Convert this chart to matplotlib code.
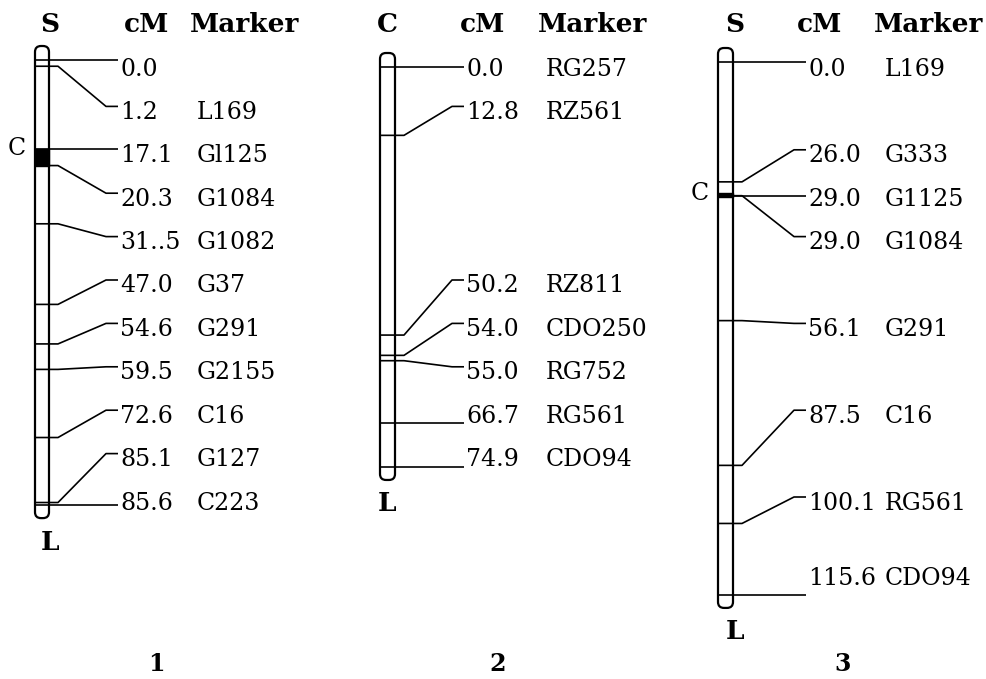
import numpy as np
import matplotlib.pyplot as plt
from matplotlib.patches import FancyBboxPatch, Rectangle

# chromosome 1
chr1_cm = [0.0, 1.2, 17.1, 20.3, 31.5, 47.0, 54.6, 59.5, 72.6, 85.1, 85.6]
chr1_cm_text = ["0.0", "1.2", "17.1", "20.3", "31..5", "47.0", "54.6", "59.5", "72.6", "85.1", "85.6"]
chr1_markers = ["", "L169", "Gl125", "G1084", "G1082", "G37", "G291", "G2155", "C16", "G127", "C223"]
chr1_centromere = (17.1, 20.3)

# chromosome 2
chr2_cm = [0.0, 12.8, 50.2, 54.0, 55.0, 66.7, 74.9]
chr2_cm_text = ["0.0", "12.8", "50.2", "54.0", "55.0", "66.7", "74.9"]
chr2_markers = ["RG257", "RZ561", "RZ811", "CDO250", "RG752", "RG561", "CDO94"]
chr2_centromere = None

# chromosome 3
chr3_cm = [0.0, 26.0, 29.0, 29.0, 56.1, 87.5, 100.1, 115.6]
chr3_cm_text = ["0.0", "26.0", "29.0", "29.0", "56.1", "87.5", "100.1", "115.6"]
chr3_markers = ["L169", "G333", "G1125", "G1084", "G291", "C16", "RG561", "CDO94"]
chr3_centromere = (28.5, 29.3)

ends = [("S", "L"), ("C", "L"), ("S", "L")]
panel_names = ["1", "2", "3"]

FS = 17
HFS = 19
FONT = "DejaVu Serif"
ROW0 = 69.0
ROW_STEP = 43.4

# layout for each chromosome (pixel units); "flat" = rows joined by a plain horizontal line
chroms = [
    dict(cm=chr1_cm, cm_text=chr1_cm_text, markers=chr1_markers, cen=chr1_centromere,
         bar_x=35, bar_w=14, y0=60, k=5.2, rows=list(range(11)), flat=[0, 2, 10],
         cm_x=120, mk_x=197, end_x=50, hdr_cm=147, hdr_mk=245, num_x=156),
    dict(cm=chr2_cm, cm_text=chr2_cm_text, markers=chr2_markers, cen=chr2_centromere,
         bar_x=380, bar_w=15, y0=67, k=5.34, rows=[0, 1, 5, 6, 7, 8, 9], flat=[0, 5, 6],
         cm_x=466, mk_x=546, end_x=387, hdr_cm=483, hdr_mk=593, num_x=498),
    dict(cm=chr3_cm, cm_text=chr3_cm_text, markers=chr3_markers, cen=chr3_centromere,
         bar_x=718, bar_w=15, y0=62, k=4.61, rows=[0, 2, 3, 4, 6, 8, 10, 11.75], flat=[0, 2, 7],
         cm_x=808, mk_x=885, end_x=735, hdr_cm=820, hdr_mk=929, num_x=843),
]

fig = plt.figure(figsize=(9.87, 6.79), dpi=100, facecolor="white")
ax = fig.add_axes([0, 0, 1, 1])
ax.set_xlim(0, 987)
ax.set_ylim(679, 0)
ax.axis("off")

for c, (top_lab, bot_lab), name in zip(chroms, ends, panel_names):
    ys = c["y0"] + c["k"] * np.array(c["cm"])
    left = c["bar_x"]
    right = left + c["bar_w"]
    top = ys.min() - 14
    bottom = ys.max() + 13

    body = FancyBboxPatch((left, top), c["bar_w"], bottom - top,
                          boxstyle="round,pad=0,rounding_size=6",
                          fc="white", ec="black", lw=1.6, zorder=2)
    ax.add_patch(body)

    if c["cen"] is not None:
        cy0 = c["y0"] + c["k"] * c["cen"][0]
        cy1 = c["y0"] + c["k"] * c["cen"][1]
        ax.add_patch(Rectangle((left, cy0), c["bar_w"], cy1 - cy0,
                               fc="black", ec="black", lw=1, zorder=3))
        ax.text(left - 18, cy0, "C", fontsize=FS, family=FONT,
                ha="center", va="center")

    for i, (y, r, cmt, mk) in enumerate(zip(ys, c["rows"], c["cm_text"], c["markers"])):
        ly = ROW0 + ROW_STEP * r
        if i in c["flat"]:
            xs = [left, c["cm_x"] - 2]
            yy = [y, y]
        else:
            end_y = ly - 6
            xs = [left, right + 9, c["cm_x"] - 14, c["cm_x"] - 2]
            yy = [y, y, end_y, end_y]
        ax.plot(xs, yy, color="black", lw=1.2, zorder=4, solid_capstyle="butt")
        ax.text(c["cm_x"], ly, cmt, fontsize=FS, family=FONT, ha="left", va="center")
        ax.text(c["mk_x"], ly, mk, fontsize=FS, family=FONT, ha="left", va="center")

    # headers and chromosome ends
    for hx, ht in [(c["end_x"], top_lab), (c["hdr_cm"], "cM"), (c["hdr_mk"], "Marker")]:
        ax.text(hx, 25, ht, fontsize=HFS, family=FONT, fontweight="bold",
                ha="center", va="center")
    ax.text(c["end_x"], bottom + 24, bot_lab, fontsize=HFS, family=FONT,
            fontweight="bold", ha="center", va="center")
    ax.text(c["num_x"], 664, name, fontsize=FS, family=FONT,
            fontweight="bold", ha="center", va="center")

fig.savefig("out.png", dpi=100, facecolor="white")
